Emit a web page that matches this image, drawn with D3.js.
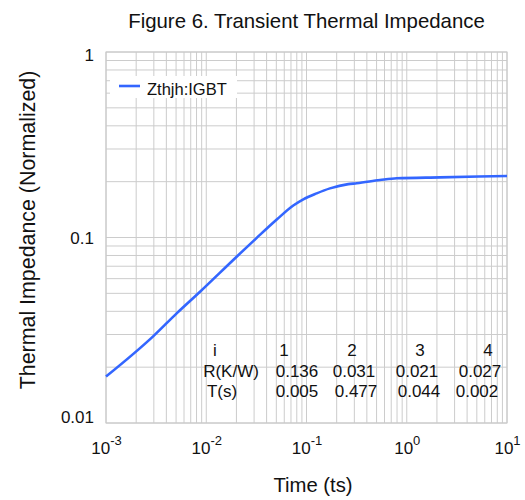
<!DOCTYPE html>
<html>
<head>
<meta charset="utf-8">
<script src="https://cdn.jsdelivr.net/npm/d3@7"></script>
<style>
  body { margin: 0; background: #fff; }
  svg { font-family: "Liberation Sans", Arial, sans-serif; }
  .grid line { stroke: #cccccc; stroke-width: 1; }
</style>
</head>
<body>
<div id="chart"></div>
<script>
// data
const timeS = [0.001, 0.00297, 0.00507, 0.00867, 0.0201, 0.0319, 0.0505, 0.0738, 0.0929, 0.1264, 0.1714, 0.261, 0.317, 0.541, 0.794, 2.15, 10];
const zthValues = [0.0178, 0.0294, 0.039, 0.051, 0.0788, 0.0996, 0.125, 0.1488, 0.1607, 0.173, 0.184, 0.194, 0.196, 0.204, 0.2086, 0.211, 0.2146];
const xTicks = [1e-3, 1e-2, 1e-1, 1, 10];
const xExponents = ["-3", "-2", "-1", "0", "1"];
const yTicks = [0.01, 0.1, 1];
const yTickLabels = ["0.01", "0.1", "1"];
const tableHeader = ["i", "1", "2", "3", "4"];
const tableR = ["R(K/W)", "0.136", "0.031", "0.021", "0.027"];
const tableT = ["T(s)", "0.005", "0.477", "0.044", "0.002"];
const seriesName = "Zthjh:IGBT";

const W = 525, H = 500;
const margin = { left: 106, right: 18, top: 52, bottom: 77 };
const iw = W - margin.left - margin.right;
const ih = H - margin.top - margin.bottom;

const svg = d3.select("#chart").append("svg")
    .attr("width", W).attr("height", H);

const x = d3.scaleLog().domain([1e-3, 10]).range([0, iw]);
const y = d3.scaleLog().domain([0.01, 1]).range([ih, 0]);

const g = svg.append("g").attr("transform", `translate(${margin.left},${margin.top})`);

// grid lines (decades + minors)
const gx = [], gy = [];
for (let e = -3; e < 1; e++) for (let m = 1; m <= 9; m++) gx.push(m * Math.pow(10, e));
gx.push(10);
for (let e = -2; e < 0; e++) for (let m = 1; m <= 9; m++) gy.push(m * Math.pow(10, e));
gy.push(1);

const grid = g.append("g").attr("class", "grid");
grid.selectAll("line.vx").data(gx).enter().append("line")
    .attr("x1", d => x(d)).attr("x2", d => x(d))
    .attr("y1", 0).attr("y2", ih);
grid.selectAll("line.hy").data(gy).enter().append("line")
    .attr("y1", d => y(d)).attr("y2", d => y(d))
    .attr("x1", 0).attr("x2", iw);

g.append("rect").attr("width", iw).attr("height", ih)
    .attr("fill", "none").attr("stroke", "#c8c8c8");

// axes
const xAxis = g.append("g").attr("transform", `translate(0,${ih})`)
    .call(d3.axisBottom(x).tickValues(xTicks).tickSize(0).tickFormat(""));
xAxis.select(".domain").remove();
xAxis.selectAll(".tick text").remove();
xAxis.selectAll(".tick").append("text")
    .attr("y", 31).attr("fill", "#111").attr("font-size", 17)
    .attr("text-anchor", "middle")
    .each(function(d, i) {
        const t = d3.select(this);
        t.append("tspan").text("10");
        t.append("tspan").attr("dy", -9).attr("font-size", 13).text(xExponents[i]);
    });

const yShift = [-6, 1, 3];
const yAxis = g.append("g")
    .call(d3.axisLeft(y).tickValues(yTicks).tickSize(0).tickPadding(12)
        .tickFormat((d, i) => yTickLabels[i]));
yAxis.select(".domain").remove();
yAxis.selectAll(".tick text").attr("font-size", 17).attr("fill", "#111")
    .attr("font-family", "Liberation Sans, Arial, sans-serif")
    .attr("y", (d, i) => yShift[i]);

// curve
const line = d3.line().x(d => x(d[0])).y(d => y(d[1])).curve(d3.curveMonotoneX);
g.append("path")
    .datum(timeS.map((t, i) => [t, zthValues[i]]))
    .attr("fill", "none").attr("stroke", "#3366ff").attr("stroke-width", 2.6)
    .attr("d", line);

// legend
const leg = g.append("g").attr("transform", "translate(4,24)");
leg.append("rect").attr("width", 127).attr("height", 22).attr("fill", "#fff");
leg.append("line").attr("x1", 9).attr("x2", 30).attr("y1", 10).attr("y2", 10)
    .attr("stroke", "#3366ff").attr("stroke-width", 2.6);
leg.append("text").attr("x", 37).attr("y", 19).attr("font-size", 16.5).attr("fill", "#111")
    .text(seriesName);

// parameter table
const colX = [[215, 231, 222], [284, 297, 297], [352, 354, 356], [420, 417, 419], [488, 480, 477]];
const rows = [tableHeader, tableR, tableT];
const rowY = [356, 377, 397];
rows.forEach((row, r) => {
    svg.selectAll(null).data(row).enter().append("text")
        .attr("x", (d, i) => colX[i][r]).attr("y", rowY[r])
        .attr("text-anchor", "middle").attr("font-size", 17).attr("fill", "#111")
        .text(d => d);
});

// titles
svg.append("text").attr("x", 306.5).attr("y", 28).attr("text-anchor", "middle")
    .attr("font-size", 20.4).attr("fill", "#111")
    .text("Figure 6. Transient Thermal Impedance");
svg.append("text").attr("x", 313).attr("y", 492).attr("text-anchor", "middle")
    .attr("font-size", 20.3).attr("fill", "#111").text("Time (ts)");
svg.append("text").attr("transform", "translate(35,230) rotate(-90)")
    .attr("text-anchor", "middle").attr("font-size", 21.4).attr("fill", "#111")
    .text("Thermal Impedance (Normalized)");
</script>
</body>
</html>
